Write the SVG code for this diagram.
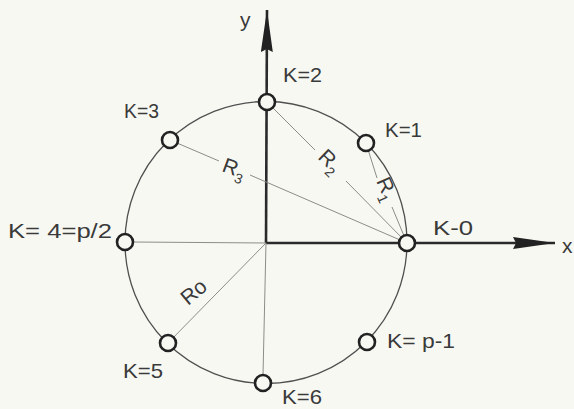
<svg xmlns="http://www.w3.org/2000/svg" width="574" height="409" viewBox="0 0 574 409">
<style>
.bg{fill:#f8f8f3}
.thin{stroke:#8c8c88;stroke-width:1;fill:none}
.ring{stroke:#505050;stroke-width:1.3;fill:none}
.axis{stroke:#2a2a2a;stroke-width:2.6;fill:none}
.node{stroke:#222;stroke-width:2.6;fill:#f8f8f3}
.t{font-family:"Liberation Sans","DejaVu Sans",sans-serif;font-size:21px;fill:#3a3a3a}
.s{font-size:14px}
</style>
<defs>
<marker id="ah" viewBox="0 0 42 12" refX="42" refY="6" markerWidth="42" markerHeight="12" markerUnits="userSpaceOnUse" orient="auto">
<path d="M0,0 L42,6 L0,12 L3,6 Z" fill="#222"/>
</marker>
</defs>
<rect class="bg" x="0" y="0" width="574" height="409"/>
<g id="connectors">
<circle class="ring" cx="266" cy="242.5" r="141"/>
<line class="axis" x1="266" y1="243" x2="555" y2="243" marker-end="url(#ah)"/>
<line class="axis" x1="266" y1="243" x2="267" y2="10" marker-end="url(#ah)"/>
<line class="thin" x1="266" y1="243" x2="263" y2="375"/>
<line class="thin" x1="133" y1="242" x2="266" y2="243"/>
<line class="thin" x1="266" y1="243" x2="168" y2="343"/>
<line class="thin" x1="366" y1="143" x2="377" y2="178"/>
<line class="thin" x1="392" y1="207" x2="407" y2="243"/>
<line class="thin" x1="267" y1="102" x2="315" y2="150"/>
<line class="thin" x1="346" y1="181" x2="407" y2="243"/>
<line class="thin" x1="170" y1="140" x2="219" y2="161"/>
<line class="thin" x1="250" y1="175" x2="407" y2="243"/>
</g>
<g id="n0"><circle class="node" cx="407" cy="243" r="8"/><text class="t" x="433" y="235" textLength="40" lengthAdjust="spacingAndGlyphs">K-0</text></g>
<g id="n1"><circle class="node" cx="366" cy="143" r="8"/><text class="t" x="385" y="137" textLength="37" lengthAdjust="spacingAndGlyphs">K=1</text></g>
<g id="n2"><circle class="node" cx="267" cy="102" r="8"/><text class="t" x="283" y="82" textLength="39" lengthAdjust="spacingAndGlyphs">K=2</text></g>
<g id="n3"><circle class="node" cx="170" cy="140" r="8"/><text class="t" x="124" y="118" textLength="35" lengthAdjust="spacingAndGlyphs">K=3</text></g>
<g id="n4"><circle class="node" cx="125" cy="242" r="8"/><text class="t" x="8" y="238" textLength="104" lengthAdjust="spacingAndGlyphs">K= 4=p/2</text></g>
<g id="n5"><circle class="node" cx="168" cy="343" r="8"/><text class="t" x="123" y="378" textLength="40" lengthAdjust="spacingAndGlyphs">K=5</text></g>
<g id="n6"><circle class="node" cx="263" cy="383" r="8"/><text class="t" x="282" y="404" textLength="40" lengthAdjust="spacingAndGlyphs">K=6</text></g>
<g id="np1"><circle class="node" cx="367" cy="342" r="8"/><text class="t" x="387" y="348" textLength="68" lengthAdjust="spacingAndGlyphs">K= p-1</text></g>
<g id="labels">
<text class="t" x="240" y="27">y</text>
<text class="t" x="562" y="253">x</text>
<text class="t" transform="translate(221,171) rotate(20)">R<tspan class="s" dy="6">3</tspan></text>
<text class="t" transform="translate(317,158) rotate(44)">R<tspan class="s" dy="6">2</tspan></text>
<text class="t" transform="translate(376,181) rotate(66)">R<tspan class="s" dy="6">1</tspan></text>
<text class="t" transform="translate(188,306) rotate(-40)">Ro</text>
</g>
</svg>
